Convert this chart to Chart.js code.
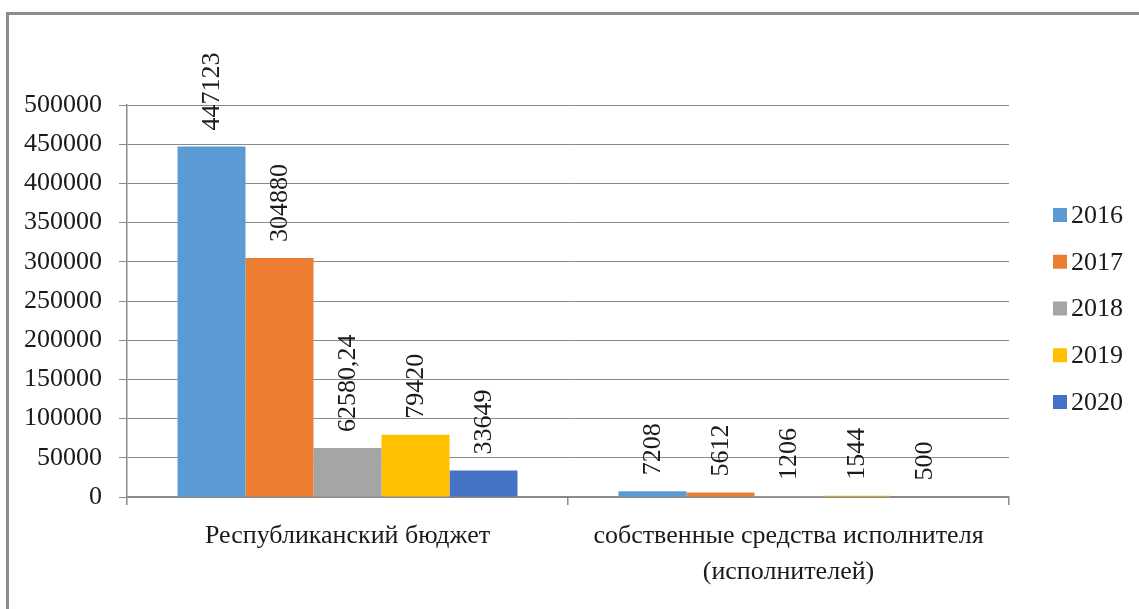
<!DOCTYPE html>
<html>
<head>
<meta charset="utf-8">
<script src="https://cdn.jsdelivr.net/npm/chart.js@4/dist/chart.umd.min.js"></script>
<style>
  body { margin: 0; background: #fff; overflow: hidden; }
  #frame { position: absolute; left: 6px; top: 12px; width: 1200px; height: 700px; border: 3px solid #8c8c8c; }
  #c { position: absolute; left: 0; top: 0; }
</style>
</head>
<body>
<div id="frame"></div>
<canvas id="c" width="1139" height="609"></canvas>
<script>
// categories and series
const categorias = ['Республиканский бюджет', ['собственные средства исполнителя', '(исполнителей)']]
const anios = ['2016', '2017', '2018', '2019', '2020']
const v2016 = [447123, 7208]
const v2017 = [304880, 5612]
const v2018 = [62580.24, 1206]
const v2019 = [79420, 1544]
const v2020 = [33649, 500]
const colores = ['#5B9BD5', '#ED7D31', '#A5A5A5', '#FFC000', '#4472C4']

const fuente = '"Liberation Serif", "Times New Roman", serif'
const gris = '#8a8a8a'

let series = [v2016, v2017, v2018, v2019, v2020]
let datasets = series.map((s, i) => ({
  label: anios[i],
  data: s,
  backgroundColor: colores[i],
  borderWidth: 0,
  categoryPercentage: 0.771,
  barPercentage: 1
}))

// rotated value labels above each bar
const etiquetas = {
  id: 'etiquetas',
  afterDatasetsDraw(chart) {
    const ctx = chart.ctx
    ctx.save()
    ctx.font = '26px ' + fuente
    ctx.fillStyle = '#1a1a1a'
    ctx.textAlign = 'left'
    ctx.textBaseline = 'middle'
    chart.data.datasets.forEach((ds, i) => {
      chart.getDatasetMeta(i).data.forEach((bar, j) => {
        let txt = String(ds.data[j]).replace('.', ',')
        ctx.save()
        ctx.translate(bar.x, bar.y - 16)
        ctx.rotate(-Math.PI / 2)
        ctx.fillText(txt, 0, 1)
        ctx.restore()
      })
    })
    ctx.restore()
  }
}

// legend on the right, square markers
const leyenda = {
  id: 'leyenda',
  afterDraw(chart) {
    const ctx = chart.ctx
    const a = chart.chartArea
    ctx.save()
    ctx.font = '26px ' + fuente
    ctx.textBaseline = 'middle'
    ctx.textAlign = 'left'
    chart.data.datasets.forEach((ds, i) => {
      let cy = a.top + 110 + i * 46.75
      ctx.fillStyle = ds.backgroundColor
      ctx.fillRect(a.right + 44, cy - 7, 14, 14)
      ctx.fillStyle = '#1a1a1a'
      ctx.fillText(ds.label, a.right + 62, cy + 1)
    })
    ctx.restore()
  }
}

new Chart(document.getElementById('c'), {
  type: 'bar',
  data: { labels: categorias, datasets: datasets },
  options: {
    responsive: false,
    animation: false,
    layout: { padding: { top: 105, right: 130, bottom: 0, left: 0 } },
    plugins: { legend: { display: false }, tooltip: { enabled: false } },
    scales: {
      x: {
        afterFit: s => { s.height = 112 },
        grid: { drawOnChartArea: false, drawTicks: true, tickLength: 8, color: gris, lineWidth: 1.5, offset: true },
        border: { display: true, color: gris, width: 2 },
        ticks: { color: '#1a1a1a', padding: 13, font: { family: fuente, size: 26, lineHeight: 1.38 }, maxRotation: 0 }
      },
      y: {
        min: 0,
        max: 500000,
        afterFit: s => { s.width = 127 },
        grid: { color: gris, lineWidth: 1, drawTicks: true, tickLength: 8 },
        border: { display: true, color: gris, width: 1.5 },
        ticks: { stepSize: 50000, color: '#1a1a1a', padding: 17, font: { family: fuente, size: 26 }, callback: v => String(v) }
      }
    }
  },
  plugins: [etiquetas, leyenda]
})
</script>
</body>
</html>
